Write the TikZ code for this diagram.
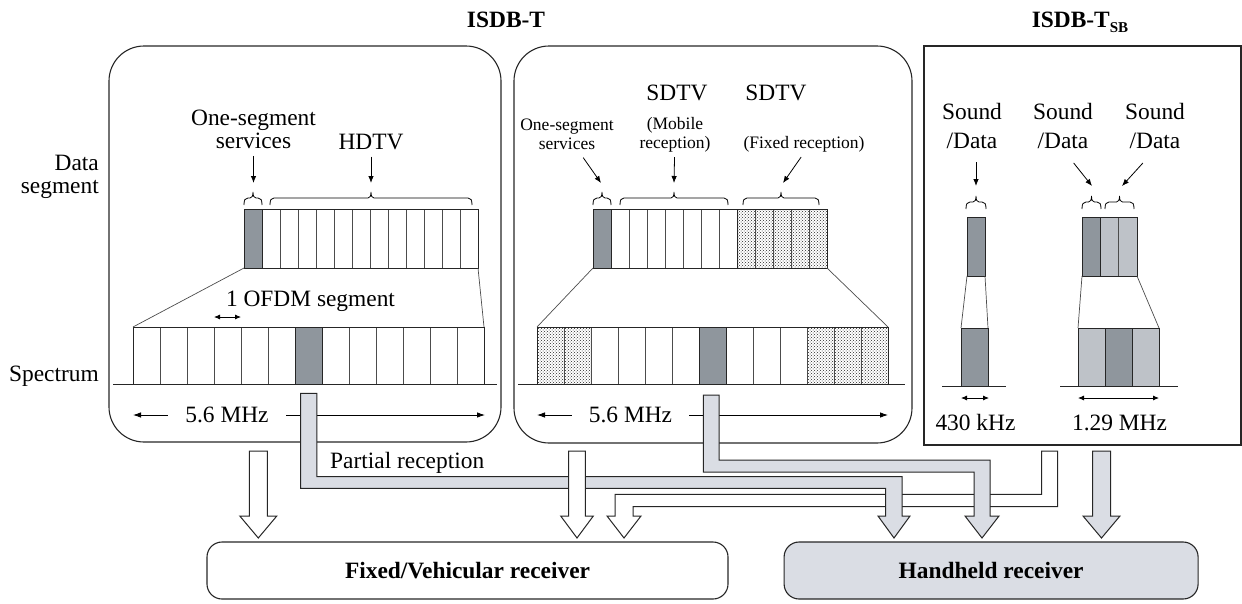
\documentclass[tikz,border=0pt]{standalone}
\usepackage{fontspec}
\setmainfont{Liberation Serif}
\usetikzlibrary{arrows.meta, positioning, patterns}

\definecolor{segdark}{RGB}{143,150,157}
\definecolor{seglight}{RGB}{190,194,200}
\definecolor{pathfill}{RGB}{218,221,228}

% curly brace over a group of segments: x from, x to, y of the feet
\newcommand{\segbrace}[3]{%
  \draw[brace line] (#1,#3) .. controls (#1,{#3-5}) and ({#1+1},{#3-7}) .. ({#1+4},{#3-7})
    -- ({(#1+#2)/2-3},{#3-7}) .. controls ({(#1+#2)/2-1},{#3-7}) and ({(#1+#2)/2},{#3-9}) .. ({(#1+#2)/2},{#3-13})
    .. controls ({(#1+#2)/2},{#3-9}) and ({(#1+#2)/2+1},{#3-7}) .. ({(#1+#2)/2+3},{#3-7})
    -- ({#2-4},{#3-7}) .. controls ({#2-1},{#3-7}) and (#2,{#3-5}) .. (#2,#3);}

% straight hollow arrow down to a receiver: style, x, y top, half shaft, half head
\newcommand{\vblock}[5]{%
  \draw[#1] ({#2-#4},#3) -- ({#2-#4},516) -- ({#2-#5},516) -- (#2,538)
    -- ({#2+#5},516) -- ({#2+#4},516) -- ({#2+#4},#3) -- cycle;}

\begin{document}
\begin{tikzpicture}[x=1pt, y=-1pt,
    panel/.style={draw=black!85, line width=1.1pt, rounded corners=35pt, inner sep=0pt, minimum height=396pt},
    receiver/.style={draw=black!85, line width=1.1pt, rounded corners=15pt, minimum height=57pt,
                     font=\bfseries\fontsize{23.4}{22.5}\selectfont},
    lbl/.style={inner sep=1pt, align=center, font=\fontsize{23.4}{22.5}\selectfont},
    smalllbl/.style={inner sep=1pt, align=center, font=\fontsize{17.5}{19}\selectfont},
    soundlbl/.style={lbl, font=\fontsize{23.4}{29}\selectfont},
    headline/.style={inner sep=0pt, font=\bfseries\fontsize{23.4}{22.5}\selectfont},
    rowline/.style={draw=black!85, line width=1pt},
    cellline/.style={draw=black!70, line width=0.7pt},
    dotted cell/.style={pattern=crosshatch dots, pattern color=black!85},
    ptr/.style={-{Latex[length=7pt,width=5.5pt]}, line width=0.8pt},
    dimarrow/.style={-{Latex[length=8pt,width=5.5pt]}, line width=0.8pt},
    dimboth/.style={{Latex[length=6pt,width=5pt]}-{Latex[length=6pt,width=5pt]}, line width=0.8pt},
    brace line/.style={line width=0.8pt},
    blockw/.style={draw=black!85, line width=1pt, fill=white},
    blockg/.style={draw=black!85, line width=1pt, fill=pathfill}
]
\useasboundingbox (0,0) rectangle (1242,603);

% Panels and titles
\node[panel, minimum width=392pt] (isdbL) at (305,244) {};
\node[panel, minimum width=398pt, minimum height=397pt] (isdbM) at (713,244.5) {};
\node[panel, sharp corners, minimum width=317pt, minimum height=399pt] (isdbSB) at (1082.5,245.5) {};
\node[headline, anchor=base] (tisdb) at (506,27) {ISDB-T};
\node[headline, anchor=base] (tisdbsb) at (1080,27) {ISDB-T\raisebox{-5.5pt}{\fontsize{15}{15}\selectfont SB}};

% Row labels
\node[lbl, align=right, anchor=east] (dataseg) at (100,176.8) {Data\\segment};
\node[lbl, anchor=base east] (spectrum) at (100,381) {Spectrum};

% Left panel: data segments
\fill[segdark] (244,209) rectangle (262,268);
\foreach \i in {1,...,12}
  \draw[cellline] ({244+18*\i},209) -- ({244+18*\i},268);
\draw[rowline] (244,209) rectangle (478,268);
\draw[rowline] (262,209) -- (262,268);

% Left panel: spectrum
\fill[segdark] (295,327) rectangle (322,384);
\foreach \i in {1,...,12}
  \draw[cellline] ({133+27*\i},327) -- ({133+27*\i},384);
\draw[rowline] (133,384) -- (133,327) -- (484,327) -- (484,384);
\draw[rowline] (295,327) -- (295,384) (322,327) -- (322,384);
\draw[rowline] (113,384) -- (497,384);
\draw[cellline] (244,268) -- (133,327) (478,268) -- (484,327);

% Left panel: labels
\node[lbl] (onesegL) at (253.5,129.5) {One-segment\\services};
\node[lbl, anchor=base] (hdtv) at (371,149) {HDTV};
\coordinate (tOneL) at (253.5,183);
\coordinate (tHdtv) at (371,183);
\draw[ptr, shorten <=6pt] (onesegL) -- (tOneL);
\draw[ptr, shorten <=6pt] (hdtv) -- (tHdtv);
\segbrace{244}{262}{205}
\segbrace{270}{472}{205}
\node[lbl, anchor=base] (ofdm) at (310.5,306) {1 OFDM segment};
\draw[dimboth] (214,317) -- (241,317);
\node[lbl, inner xsep=17.5pt] (bwL) at (227,415) {5.6 MHz};
\draw[dimarrow] (bwL.west) -- (133,415);
\draw[dimarrow] (bwL.east) -- (485,415);

% Middle panel: data segments
\fill[segdark] (593,209) rectangle (611,268);
\path[dotted cell] (737,209) rectangle (827,268);
\foreach \i in {1,...,12}
  \draw[cellline] ({593+18*\i},209) -- ({593+18*\i},268);
\draw[rowline] (593,209) rectangle (827,268);
\draw[rowline] (611,209) -- (611,268) (737,209) -- (737,268);

% Middle panel: spectrum
\path[dotted cell] (537,327) rectangle (591,384) (807,327) rectangle (888,384);
\fill[segdark] (699,327) rectangle (726,384);
\foreach \i in {1,...,12}
  \draw[cellline] ({537+27*\i},327) -- ({537+27*\i},384);
\draw[rowline] (537,384) -- (537,327) -- (888,327) -- (888,384);
\draw[rowline] (699,327) -- (699,384) (726,327) -- (726,384);
\draw[rowline] (518,384) -- (905,384);
\draw[cellline] (593,268) -- (537,327) (827,268) -- (888,327);

% Middle panel: labels
\node[lbl, anchor=base] (sdtvM) at (677,100) {SDTV};
\node[lbl, anchor=base] (sdtvF) at (776,100) {SDTV};
\node[smalllbl] (onesegM) at (567,134.5) {One-segment\\services};
\node[smalllbl] (mobile) at (675,134.5) {(Mobile\\reception)};
\node[smalllbl, anchor=base] (fixedrec) at (804,148) {(Fixed reception)};
\coordinate (tOneM) at (601,183);
\coordinate (tMob) at (674,183);
\coordinate (tFix) at (783,183);
\draw[ptr, shorten <=8pt] (onesegM) -- (tOneM);
\draw[ptr, shorten <=4pt] (mobile) -- (tMob);
\draw[ptr, shorten <=5pt] (fixedrec.south) -- (tFix);
\segbrace{593}{611}{205}
\segbrace{620}{728}{205}
\segbrace{743}{819}{205}
\node[lbl, inner xsep=17pt] (bwM) at (630.5,415) {5.6 MHz};
\draw[dimarrow] (bwM.west) -- (537,415);
\draw[dimarrow] (bwM.east) -- (888,415);

% Right panel: one segment
\fill[segdark] (967,217) rectangle (985,276);
\draw[rowline] (967,217) rectangle (985,276);
\fill[segdark] (961,328) rectangle (988,386);
\draw[rowline] (961,386) -- (961,328) -- (988,328) -- (988,386);
\draw[rowline] (942,386) -- (1006,386);
\draw[cellline] (967,276) -- (961,328) (985,276) -- (988,328);

% Right panel: three segments
\fill[segdark] (1082,217) rectangle (1100.5,276);
\fill[seglight] (1100.5,217) rectangle (1137,276);
\draw[cellline] (1118.5,217) -- (1118.5,276);
\draw[rowline] (1082,217) rectangle (1137,276);
\draw[rowline] (1100.5,217) -- (1100.5,276);
\fill[seglight] (1078,328) rectangle (1159,386);
\fill[segdark] (1105,328) rectangle (1132,386);
\draw[rowline] (1078,386) -- (1078,328) -- (1159,328) -- (1159,386);
\draw[rowline] (1105,328) -- (1105,386) (1132,328) -- (1132,386);
\draw[rowline] (1060,386) -- (1178,386);
\draw[cellline] (1082,276) -- (1078,328) (1137,276) -- (1159,328);

% Right panel: labels
\node[soundlbl] (snd1) at (972,125.7) {Sound\\/Data};
\node[soundlbl] (snd2) at (1063,125.7) {Sound\\/Data};
\node[soundlbl] (snd3) at (1155,125.7) {Sound\\/Data};
\coordinate (t1) at (976,186);
\coordinate (t2) at (1092,186);
\coordinate (t3) at (1122,186);
\draw[ptr, shorten <=12.5pt] (snd1.south -| t1) -- (t1);
\draw[ptr, shorten <=17pt] (snd2.south) -- (t2);
\draw[ptr, shorten <=18pt] (snd3.south) -- (t3);
\segbrace{966}{986}{209}
\segbrace{1082}{1101}{209}
\segbrace{1105}{1134}{209}
\draw[dimboth] (961,398) -- (989,398);
\node[lbl, anchor=base] (khz) at (975.5,430) {430 kHz};
\draw[dimboth] (1078,398) -- (1159,398);
\node[lbl, anchor=base] (mhz) at (1119.5,430) {1.29 MHz};

% Receivers
\node[receiver, minimum width=521pt] (fixed) at (467.5,570.5) {Fixed/Vehicular receiver};
\node[receiver, fill=pathfill, minimum width=414pt, right=55pt of fixed] (handheld) {Handheld receiver};

% Signal paths
\draw[blockw] (1041.5,451) -- (1057.5,451) -- (1057.5,506.7) -- (633,506.7) -- (633,516) -- (641,516)
  -- (624,538) -- (607,516) -- (615,516) -- (615,494.3) -- (1041.5,494.3) -- cycle;
\draw[blockg] (300.7,393.3) -- (316.8,393.3) -- (316.8,476.7) -- (902,476.7) -- (902,516) -- (910,516)
  -- (894,538) -- (878,516) -- (885.7,516) -- (885.7,488.3) -- (300.7,488.3) -- cycle;
\draw[blockg] (703.4,395) -- (719,395) -- (719,460) -- (990,460) -- (990,516) -- (999,516)
  -- (982,538) -- (965,516) -- (974,516) -- (974,472) -- (703.4,472) -- cycle;
\vblock{blockw}{258.3}{451}{9}{18.5}
\vblock{blockw}{577}{451}{8.3}{16.3}
\vblock{blockg}{1101.5}{451}{9}{18.5}
\node[lbl, anchor=base west] (partial) at (329,468) {Partial reception};

\end{tikzpicture}
\end{document}
